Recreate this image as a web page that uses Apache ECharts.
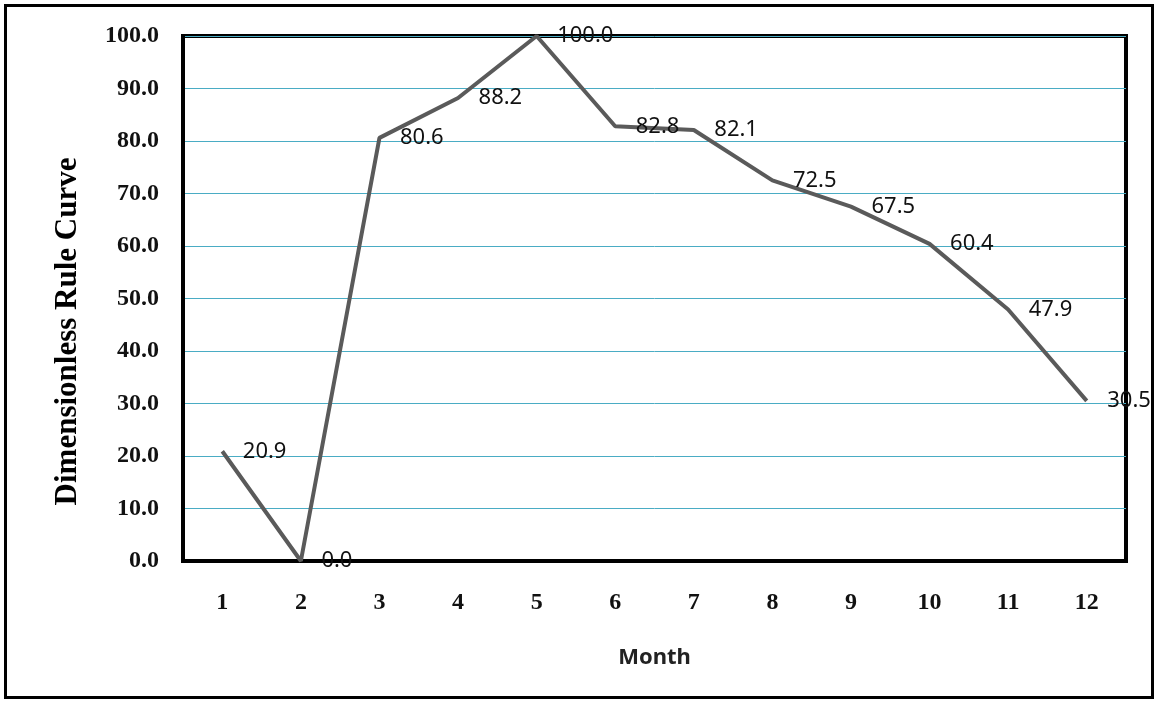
<!DOCTYPE html>
<html>
<head>
<meta charset="utf-8">
<script src="https://cdn.jsdelivr.net/npm/echarts@6/dist/echarts.min.js"></script>
<style>
  html, body { margin: 0; padding: 0; background: #fff; }
  #chart { width: 1158px; height: 704px; }
</style>
</head>
<body>
<div id="chart"></div>
<script>
// Monthly dimensionless rule curve values
const months = ['1', '2', '3', '4', '5', '6', '7', '8', '9', '10', '11', '12'];
const ruleCurve = [20.9, 0.0, 80.6, 88.2, 100.0, 82.8, 82.1, 72.5, 67.5, 60.4, 47.9, 30.5];
const yTicks = { min: 0, max: 100, interval: 10 };

const chart = echarts.init(document.getElementById('chart'), null, { renderer: 'canvas' });

chart.setOption({
  backgroundColor: '#ffffff',
  animation: false,
  graphic: [{
    type: 'rect',
    shape: { x: 5.5, y: 5.5, width: 1147, height: 692 },
    style: { fill: 'none', stroke: '#000', lineWidth: 3 },
    z: 100
  }],
  grid: {
    left: 183, top: 36, right: 32, bottom: 143,
    show: true, borderColor: '#000', borderWidth: 4, backgroundColor: 'transparent'
  },
  xAxis: {
    type: 'category',
    data: months,
    boundaryGap: true,
    name: 'Month',
    nameLocation: 'middle',
    nameGap: 86,
    nameTextStyle: { fontFamily: 'Noto Sans', fontWeight: 'bold', fontSize: 22, color: '#222' },
    axisLine: { lineStyle: { color: '#000', width: 4 } },
    axisTick: { show: false },
    axisLabel: { margin: 30, fontFamily: 'Liberation Serif', fontWeight: 'bold', fontSize: 24, color: '#111' },
    splitLine: { show: false }
  },
  yAxis: {
    type: 'value',
    min: yTicks.min, max: yTicks.max, interval: yTicks.interval,
    name: 'Dimensionless Rule Curve',
    nameLocation: 'middle',
    nameGap: 100,
    nameRotate: 90,
    nameTextStyle: {
      fontFamily: 'Liberation Serif', fontWeight: 'bold', fontSize: 31, color: '#000',
      padding: [0, 66, 0, 0]
    },
    axisLine: { show: true, lineStyle: { color: '#000', width: 4 } },
    axisTick: { show: false },
    axisLabel: {
      margin: 24,
      fontFamily: 'Liberation Serif', fontWeight: 'bold', fontSize: 24, color: '#111',
      formatter: v => v.toFixed(1)
    },
    splitLine: { lineStyle: { color: '#4aacc4', width: 1 } }
  },
  series: [{
    type: 'line',
    data: ruleCurve,
    symbol: 'circle',
    symbolSize: 1,
    showSymbol: true,
    itemStyle: { color: 'rgba(0,0,0,0)' },
    lineStyle: { color: '#5a5a5a', width: 4 },
    label: {
      show: true,
      position: 'right',
      distance: 20,
      fontFamily: 'Noto Sans',
      fontSize: 22,
      color: '#111',
      formatter: p => p.value.toFixed(1)
    },
    z: 5
  }]
});
</script>
</body>
</html>
